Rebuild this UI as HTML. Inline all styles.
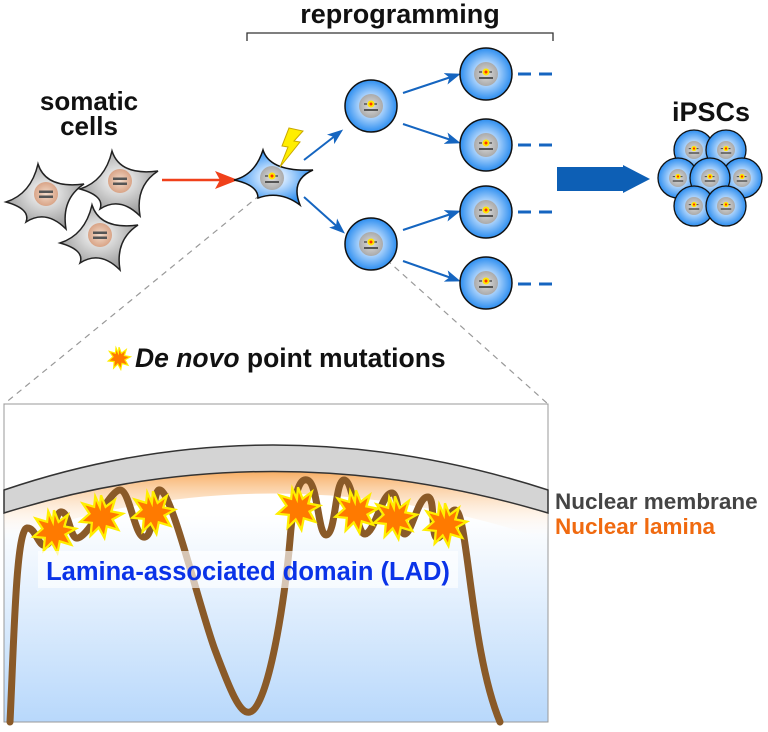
<!DOCTYPE html>
<html><head><meta charset="utf-8"><style>
body{margin:0;background:#fff;width:768px;height:727px;overflow:hidden}
svg text{font-family:"Liberation Sans",sans-serif;font-weight:bold}
</style></head><body>
<svg width="768" height="727" viewBox="0 0 768 727" xmlns="http://www.w3.org/2000/svg">
<defs>
<radialGradient id="gc" cx="50%" cy="45%" r="55%"><stop offset="0" stop-color="#fff"/><stop offset="1" stop-color="#999"/></radialGradient>
<radialGradient id="bc" cx="50%" cy="50%" r="50%"><stop offset="0.3" stop-color="#cfe6ff"/><stop offset="1" stop-color="#2d8ef0"/></radialGradient>
<radialGradient id="nu" cx="50%" cy="50%" r="50%"><stop offset="0" stop-color="#f3dccb"/><stop offset="1" stop-color="#d9a487"/></radialGradient>
<radialGradient id="gn" cx="50%" cy="50%" r="50%"><stop offset="0" stop-color="#ddd"/><stop offset="1" stop-color="#aaa"/></radialGradient>
<linearGradient id="ins" x1="0" y1="0" x2="0" y2="1"><stop offset="0.35" stop-color="#fff"/><stop offset="1" stop-color="#b8d8fb"/></linearGradient>
<linearGradient id="lam" x1="0" y1="0" x2="0" y2="1"><stop offset="0" stop-color="#f7a24c"/><stop offset="1" stop-color="#fff" stop-opacity="0"/></linearGradient>
<g id="gcell"><path d="M-40,8 Q-15,0 -8,-30 Q0,-5 38,-10 Q15,5 20,35 Q0,15 -20,28 Q-15,15 -40,8Z" fill="url(#gc)" stroke="#222" stroke-width="1.5"/><circle r="12" fill="url(#nu)"/><rect x="-7" y="-3.5" width="14" height="2.5" fill="#555"/><rect x="-7" y="1.5" width="14" height="2.5" fill="#555"/></g>
<g id="nuc"><circle r="12" fill="url(#gn)"/><rect x="-7" y="3" width="14" height="2" fill="#555"/><line x1="-7" y1="-2" x2="7" y2="-2" stroke="#555" stroke-width="1.5" stroke-dasharray="3 2"/><circle cy="-2" r="3.5" fill="#ffe600"/><circle cy="-2" r="1.5" fill="#f30"/></g>
<g id="bcell"><circle r="26" fill="url(#bc)" stroke="#111" stroke-width="1.5"/><use href="#nuc"/></g>
<g id="scell"><circle r="20" fill="url(#bc)" stroke="#111" stroke-width="1.3"/><g transform="scale(0.75)"><use href="#nuc"/></g></g>
<polygon id="star" points="0,-18 4,-8 12,-14 9,-4 19,-2 10,3 15,12 5,9 3,19 -2,10 -9,17 -8,6 -18,5 -10,-2 -16,-11 -6,-8 -5,-17 -1,-8" fill="#ff7a00" stroke="#ffee00" stroke-width="2"/>
<marker id="ab" markerWidth="16" markerHeight="12" refX="12" refY="6" orient="auto" markerUnits="userSpaceOnUse"><path d="M0,0 L16,6 L0,12 L4,6Z" fill="#1565c0"/></marker>
</defs>
<text x="400" y="23" font-size="27" text-anchor="middle" fill="#111">reprogramming</text>
<path d="M247,41 V33 H553 V41" fill="none" stroke="#333" stroke-width="1.3"/>
<text x="89" y="110" font-size="26" text-anchor="middle" fill="#111">somatic</text>
<text x="89" y="135" font-size="26" text-anchor="middle" fill="#111">cells</text>
<use href="#gcell" transform="translate(46,194)"/>
<use href="#gcell" transform="translate(120,181)"/>
<use href="#gcell" transform="translate(100,235)"/>
<line x1="162" y1="180" x2="222" y2="180" stroke="#f0401a" stroke-width="2.5"/><path d="M215,171 L238,180 L215,189 L220,180Z" fill="#f0401a"/>
<line x1="260" y1="195" x2="4" y2="404" stroke="#999" stroke-width="1.2" stroke-dasharray="6 5"/>
<line x1="370" y1="245" x2="548" y2="404" stroke="#999" stroke-width="1.2" stroke-dasharray="6 5"/>
<path d="M234,180 Q255,175 263,150 Q270,172 313,170 Q290,180 300,205 Q280,190 258,198 Q258,185 234,180Z" fill="url(#bc)" stroke="#111" stroke-width="1.5"/>
<g transform="translate(272,178)"><use href="#nuc"/></g>
<path d="M289,128 L303,131 L294,141 L300,142 L280,167 L288,147 L282,146Z" fill="#ffee00" stroke="#c9a800" stroke-width="1"/>
<g stroke="#1565c0" stroke-width="2" fill="none">
<line x1="304" y1="160" x2="340" y2="132" marker-end="url(#ab)"/>
<line x1="304" y1="197" x2="342" y2="231" marker-end="url(#ab)"/>
<line x1="403" y1="93" x2="457" y2="75" marker-end="url(#ab)"/>
<line x1="403" y1="124" x2="457" y2="142" marker-end="url(#ab)"/>
<line x1="403" y1="230" x2="457" y2="212" marker-end="url(#ab)"/>
<line x1="403" y1="261" x2="457" y2="280" marker-end="url(#ab)"/>
</g>
<use href="#bcell" transform="translate(371,106)"/>
<use href="#bcell" transform="translate(371,244)"/>
<use href="#bcell" transform="translate(486,74)"/>
<use href="#bcell" transform="translate(486,145)"/>
<use href="#bcell" transform="translate(486,212)"/>
<use href="#bcell" transform="translate(486,283)"/>
<g stroke="#1565c0" stroke-width="3">
<line x1="518" y1="74" x2="531" y2="74"/><line x1="539" y1="74" x2="552" y2="74"/>
<line x1="518" y1="145" x2="531" y2="145"/><line x1="539" y1="145" x2="552" y2="145"/>
<line x1="518" y1="212" x2="531" y2="212"/><line x1="539" y1="212" x2="552" y2="212"/>
<line x1="518" y1="284" x2="531" y2="284"/><line x1="539" y1="284" x2="552" y2="284"/>
</g>
<path d="M557,167 H623 V165 L650,179 L623,193 V191 H557Z" fill="#0d5fb5"/>
<text x="711" y="121" font-size="27" text-anchor="middle" fill="#111">iPSCs</text>
<use href="#scell" transform="translate(694,150)"/>
<use href="#scell" transform="translate(726,150)"/>
<use href="#scell" transform="translate(678,178)"/>
<use href="#scell" transform="translate(742,178)"/>
<use href="#scell" transform="translate(710,178)"/>
<use href="#scell" transform="translate(694,206)"/>
<use href="#scell" transform="translate(726,206)"/>
<use href="#star" transform="translate(119,358) scale(0.6)"/>
<text x="135" y="367" font-size="26.5" fill="#111"><tspan font-style="italic">De novo</tspan> point mutations</text>
<rect x="4" y="404" width="544" height="318" fill="url(#ins)" stroke="#999" stroke-width="1"/>
<path d="M4,513 Q270,420 548,513 V540 Q270,447 4,540Z" fill="url(#lam)"/>
<path d="M4,490 Q270,400 548,490 L548,513 Q270,430 4,513Z" fill="#d4d4d4" stroke="#333" stroke-width="1.5"/>
<path d="M10,722 C14,640 16,530 27,528 C36,527 38,548 46,545 C55,542 54,510 62,512 C70,514 70,540 78,538 C90,535 110,490 120,490 C130,490 135,540 145,537 C155,535 152,488 160,490 C172,492 200,610 215,650 C230,690 240,715 250,712 C268,708 285,600 290,540 C294,490 300,478 307,480 C318,482 318,535 326,535 C336,535 335,480 344,480 C354,480 356,535 365,534 C375,533 382,492 392,493 C400,494 398,535 405,534 C412,533 418,496 428,497 C436,498 430,540 438,538 C445,536 448,510 455,510 C468,510 470,650 500,722" fill="none" stroke="#8a5a28" stroke-width="7" stroke-linecap="round"/>
<use href="#star" transform="translate(54,531) scale(1.15)"/>
<use href="#star" transform="translate(101,516) scale(1.15)"/>
<use href="#star" transform="translate(153,512) scale(1.15)"/>
<use href="#star" transform="translate(298,508) scale(1.15)"/>
<use href="#star" transform="translate(356,511) scale(1.15)"/>
<use href="#star" transform="translate(395,517) scale(1.15)"/>
<use href="#star" transform="translate(445,524) scale(1.15)"/>
<rect x="38" y="551" width="420" height="37" fill="#fff" opacity="0.65"/>
<text x="248" y="580" font-size="25.5" text-anchor="middle" fill="#0a33e8">Lamina-associated domain (LAD)</text>
<text x="555" y="509" font-size="22.5" fill="#444">Nuclear membrane</text>
<text x="555" y="534" font-size="22.5" fill="#f06a10">Nuclear lamina</text>
</svg>
</body></html>
